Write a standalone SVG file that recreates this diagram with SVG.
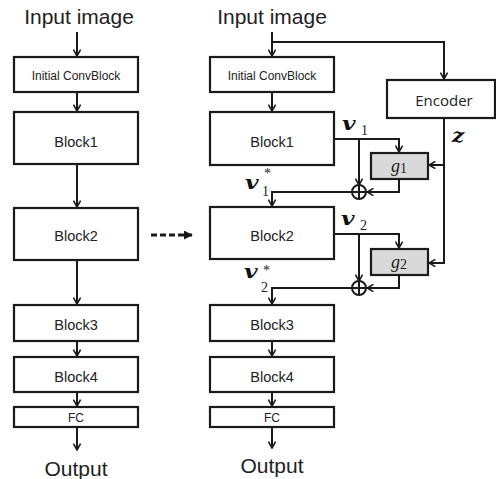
<svg xmlns="http://www.w3.org/2000/svg" width="496" height="479" viewBox="0 0 496 479">
<defs>
<marker id="ah" viewBox="0 0 10 10" refX="9" refY="5" markerWidth="8" markerHeight="8" markerUnits="userSpaceOnUse" orient="auto">
<path d="M1,0.5 L9,5 L1,9.5" fill="none" stroke="#1a1a1a" stroke-width="2"/>
</marker>
<marker id="tri" viewBox="0 0 10 10" refX="9" refY="5" markerWidth="9" markerHeight="9" markerUnits="userSpaceOnUse" orient="auto">
<path d="M0,0 L10,5 L0,10 Z" fill="#1a1a1a"/>
</marker>
<style>
.box{fill:#fff;stroke:#1a1a1a;stroke-width:2.2}
.gbox{fill:#d9d9d9;stroke:#1a1a1a;stroke-width:2.2}
.ln{fill:none;stroke:#1a1a1a;stroke-width:2}
.arr{fill:none;stroke:#1a1a1a;stroke-width:2;marker-end:url(#ah)}
.t{font-family:"Liberation Sans",Arial,sans-serif;fill:#222;text-anchor:middle}
.big{font-size:21px}
.blk{font-size:14.5px}
.sm{font-size:12px}
.enc{font-family:"Open Sans","Liberation Sans",sans-serif;font-size:15px;fill:#222;text-anchor:middle}
.m{font-family:"Liberation Serif","DejaVu Serif",serif;fill:#222}
.mv{font-family:"DejaVu Serif",serif;font-weight:bold;font-style:italic;font-size:18px;fill:#111}
.ms{font-size:14px}
.mg{font-style:italic;font-size:18px}
</style>
</defs>

<g id="left-input"><text class="t big" x="79" y="24">Input image</text></g>
<g id="left-initconv"><rect class="box" x="14" y="57" width="124" height="35"/><text class="t sm" x="76" y="80">Initial ConvBlock</text></g>
<g id="left-block1"><rect class="box" x="14" y="112" width="124" height="52"/><text class="t blk" x="76" y="147">Block1</text></g>
<g id="left-block2"><rect class="box" x="14" y="208" width="124" height="52"/><text class="t blk" x="76" y="241">Block2</text></g>
<g id="left-block3"><rect class="box" x="14" y="305" width="124" height="36"/><text class="t blk" x="76" y="330">Block3</text></g>
<g id="left-block4"><rect class="box" x="14" y="357" width="124" height="35"/><text class="t blk" x="76" y="382">Block4</text></g>
<g id="left-fc"><rect class="box" x="14" y="407" width="124" height="20"/><text class="t sm" x="76" y="422">FC</text></g>
<g id="left-output"><text class="t big" x="76" y="476">Output</text></g>

<g id="right-input"><text class="t big" x="272" y="24">Input image</text></g>
<g id="right-initconv"><rect class="box" x="210" y="57" width="124" height="35"/><text class="t sm" x="272" y="80">Initial ConvBlock</text></g>
<g id="right-block1"><rect class="box" x="210" y="112" width="124" height="53"/><text class="t blk" x="272" y="147">Block1</text></g>
<g id="right-block2"><rect class="box" x="210" y="207" width="124" height="52"/><text class="t blk" x="272" y="241">Block2</text></g>
<g id="right-block3"><rect class="box" x="210" y="305" width="124" height="36"/><text class="t blk" x="272" y="330">Block3</text></g>
<g id="right-block4"><rect class="box" x="210" y="357" width="124" height="35"/><text class="t blk" x="272" y="382">Block4</text></g>
<g id="right-fc"><rect class="box" x="210" y="407" width="124" height="20"/><text class="t sm" x="272" y="422">FC</text></g>
<g id="right-output"><text class="t big" x="272" y="473">Output</text></g>
<g id="encoder"><rect class="box" x="387" y="80" width="108" height="38"/><text class="enc" x="444" y="106">Encoder</text></g>
<g id="g1"><rect class="gbox" x="371" y="153" width="57" height="26"/><text class="m" x="399" y="172" text-anchor="middle"><tspan class="mg">g</tspan><tspan class="ms" dy="1">1</tspan></text></g>
<g id="g2"><rect class="gbox" x="371" y="249" width="57" height="26"/><text class="m" x="399" y="268" text-anchor="middle"><tspan class="mg">g</tspan><tspan class="ms" dy="1">2</tspan></text></g>
<g id="plus1"><circle cx="359" cy="192" r="7" fill="none" stroke="#1a1a1a" stroke-width="2"/><path class="ln" d="M352,192 H366 M359,185 V199"/></g>
<g id="plus2"><circle cx="359" cy="288" r="7" fill="none" stroke="#1a1a1a" stroke-width="2"/><path class="ln" d="M352,288 H366 M359,281 V295"/></g>

<g id="labels">
<text class="mv" transform="translate(342,130) scale(1.3,1)">v</text>
<text class="m ms" x="361" y="135">1</text>
<text class="mv" transform="translate(341,225) scale(1.3,1)">v</text>
<text class="m ms" x="360" y="230">2</text>
<text class="mv" transform="translate(452,142) scale(1.2,1)">z</text>
<text class="mv" transform="translate(245,189) scale(1.3,1)">v</text>
<text class="m ms" x="262" y="196">1</text>
<text class="m ms" x="264" y="178">*</text>
<text class="mv" transform="translate(244,278) scale(1.3,1)">v</text>
<text class="m ms" x="261" y="292">2</text>
<text class="m ms" x="263" y="275">*</text>
</g>

<g id="connectors">
<path class="arr" d="M77,32 V56"/>
<path class="arr" d="M77,92 V111"/>
<path class="arr" d="M77,164 V207"/>
<path class="arr" d="M77,260 V304"/>
<path class="arr" d="M77,341 V356"/>
<path class="arr" d="M77,392 V406"/>
<path class="arr" d="M77,427 V450"/>

<path class="arr" d="M272,32 V56"/>
<path class="arr" d="M272,42 H444 V79"/>
<path class="arr" d="M272,92 V111"/>
<path class="arr" d="M334,139 H399 V152"/>
<path class="arr" d="M359,139 V185"/>
<path class="arr" d="M399,179 V192 H367"/>
<path class="arr" d="M352,192 H272 V206"/>
<path class="arr" d="M444,118 V263 H429"/>
<path class="arr" d="M444,165 H429"/>
<path class="arr" d="M334,234 H399 V248"/>
<path class="arr" d="M359,234 V281"/>
<path class="arr" d="M399,275 V288 H367"/>
<path class="arr" d="M352,288 H272 V304"/>
<path class="arr" d="M272,341 V356"/>
<path class="arr" d="M272,392 V406"/>
<path class="arr" d="M272,427 V448"/>
<path d="M151,235 H192" fill="none" stroke="#1a1a1a" stroke-width="3" stroke-dasharray="6,3" marker-end="url(#tri)"/>
</g>
</svg>
